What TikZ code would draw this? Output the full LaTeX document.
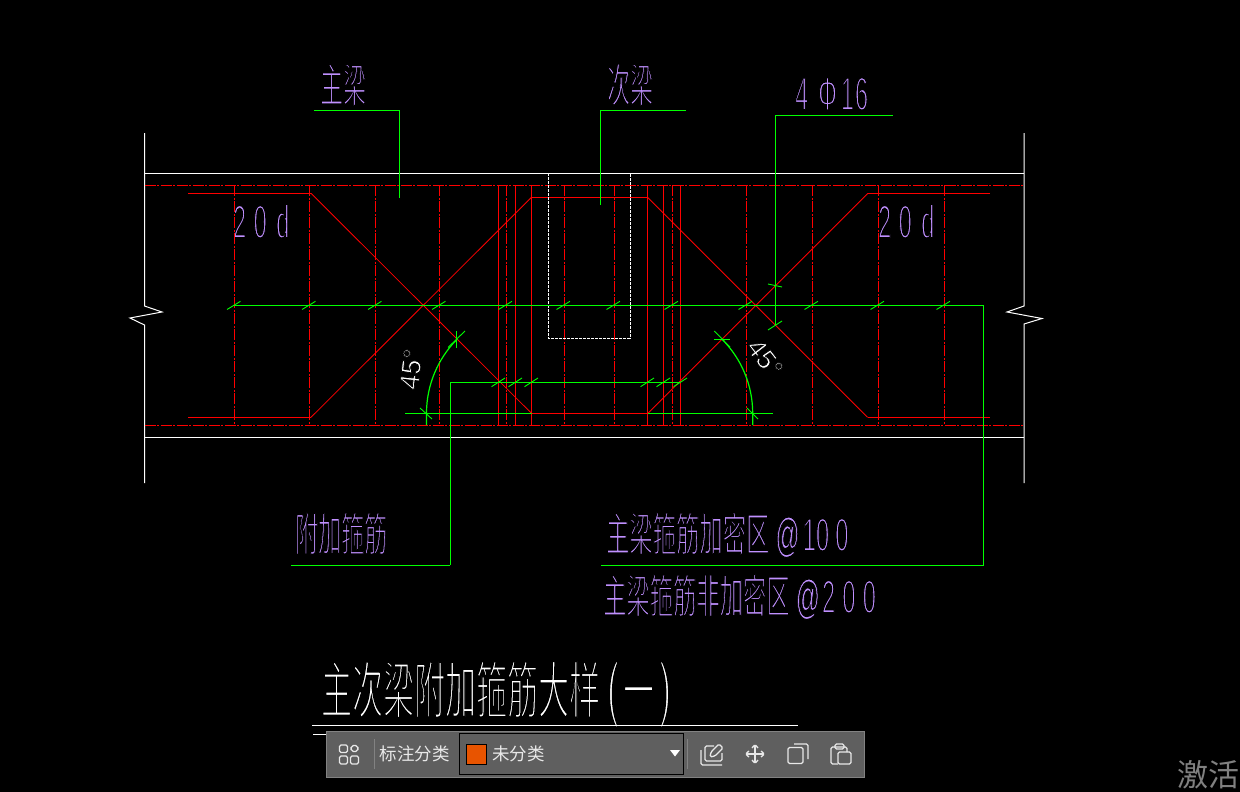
\documentclass[tikz,border=0pt]{standalone}
\usepackage{fontspec}
\setmainfont{Liberation Sans}
\newfontfamily\cjk{Noto Sans CJK SC}
\newcommand\thinned[1]{\special{pdf:code 2 Tr 0 0 0 RG #1 w}}
\newcommand\fs[1]{\fontsize{#1}{#1}\selectfont}
\definecolor{cadpurple}{HTML}{C090FF}
\definecolor{cadred}{HTML}{FF0000}
\definecolor{cadgreen}{HTML}{00FF00}
\definecolor{barfill}{HTML}{5F5F5F}
\definecolor{barline}{HTML}{828282}
\definecolor{baricon}{HTML}{E8E8E8}
\definecolor{catorange}{HTML}{E85400}
\tikzset{
 x=1pt,y=-1pt,
 purpletext/.style={text=cadpurple,inner sep=0pt,anchor=base west,xscale=.5},
 whitetext/.style={text=white,inner sep=0pt,anchor=base west,xscale=.5},
 angletext/.style={text=white,inner sep=0pt,anchor=center,font=\fs{27}},
 bartext/.style={text=baricon,inner sep=0pt,anchor=center,font=\cjk\fs{17.5}},
 wall/.style={white,line width=1pt},
 rebar/.style={cadred,line width=1pt},
 rebardash/.style={cadred,line width=1pt,dash pattern=on 11pt off 1.5pt on 2pt off 1.5pt},
 diagbar/.style={cadred,line width=.8pt},
 greenline/.style={cadgreen,line width=1pt},
 greenthick/.style={cadgreen,line width=1.2pt},
 tick/.style={cadgreen,line width=.9pt},
 icon/.style={baricon,line width=1.3pt,rounded corners=1.5pt},
}
\begin{document}
\begin{tikzpicture}
\useasboundingbox (0,0) rectangle (1240,792);
\fill[black] (0,0) rectangle (1240,792);
% texts below the lines
\node[purpletext] (zl) at (320,102) {\cjk\fs{46}\thinned{1.7}主梁};
\node[purpletext] (cl) at (607,102) {\cjk\fs{46}\thinned{1.7}次梁};
\node[purpletext] (phi) at (795,110) {\fs{47}\thinned{1.8}4\hspace{20pt}Φ\hspace{8pt}1\hspace{2pt}6};
\node[purpletext] (dl) at (233,238) {\fs{47}\thinned{1.8}2\hspace{15pt}0\hspace{19pt}d};
\node[purpletext] (dr) at (878,238) {\fs{47}\thinned{1.8}2\hspace{15pt}0\hspace{19pt}d};
\node[purpletext] (fj) at (295,551) {\cjk\fs{46}\thinned{1.7}附加箍筋};
\node[purpletext,xscale=1.014] (jm) at (606,551) {\cjk\fs{46}\thinned{1.7}主梁箍筋加密区\hspace{12pt}\rmfamily\fs{47}\thinned{1.1}@\hspace{6pt}\thinned{1.8}1\hspace{0pt}0\hspace{12pt}0};
\node[purpletext,xscale=1.014] (fjm) at (603,613) {\cjk\fs{46}\thinned{1.7}主梁箍筋非加密区\hspace{12pt}\rmfamily\fs{47}\thinned{1.1}@\hspace{4pt}\thinned{1.8}2\hspace{14pt}0\hspace{14pt}0};
\node[whitetext] (title) at (321,713) {\cjk\fs{62}\thinned{2.4}主次梁附加箍筋大样\hspace{14pt}\rmfamily\fs{72}\thinned{3}(\hspace{8pt}\cjk\fs{62}\thinned{2.4}一\hspace{10pt}\rmfamily\fs{72}\thinned{3})};
\node[angletext,rotate=84] (al) at (411,369) {\thinned{.7}45°};
\node[angletext,rotate=-52] (ar) at (765,358) {\thinned{.7}45°};
% walls and chord lines
\coordinate (lt) at (144.5,133); \coordinate (lb) at (144.5,483);
\coordinate (rt) at (1024,133); \coordinate (rb) at (1024,483);
\draw[wall] (lt) -- (144.5,306) -- (162,312) -- (130,318) -- (144.5,325) -- (lb);
\draw[wall] (rt) -- (1024,306) -- (1007,312) -- (1042,318.5) -- (1024,324) -- (rb);
\draw[wall] (144.5,173) -- (1024,173);
\draw[wall] (144.5,437) -- (1024,437);
\draw[rebardash] (144.5,185) -- (1024,185);
\draw[rebardash] (144.5,425) -- (1024,425);
% stirrups
\foreach \x in {234.5,309.5,375.5,439.5,506.5,564.5,614.5,672.5,746.5,812.5,878.5,944.5}
  \draw[rebardash] (\x,185) -- (\x,425);
\foreach \x in {498.5,515.5,531.5,647.5,663.5,680.5}
  \draw[rebar] (\x,185) -- (\x,425);
% bent bars
\draw[rebar] (188,193.3) -- (311,193.3);
\draw[diagbar] (311,193.3) -- (531.5,413.3);
\draw[rebar] (531.5,413.3) -- (648,413.3);
\draw[diagbar] (648,413.3) -- (868,193.3);
\draw[rebar] (868,193.3) -- (990,193.3);
\draw[rebar] (188,417.3) -- (311,417.3);
\draw[diagbar] (311,417.3) -- (531.5,197.3);
\draw[rebar] (531.5,197.3) -- (647.5,197.3);
\draw[diagbar] (647.5,197.3) -- (867.5,417.3);
\draw[rebar] (867.5,417.3) -- (990,417.3);
% secondary beam outline
\draw[white,line width=1pt,dash pattern=on 3pt off 1pt] (548.3,173) -- (548.3,338) -- (630.3,338) -- (630.3,173);
% leaders
\draw[greenline] (314,110.3) -- (399.5,110.3) -- (399.5,197.5);
\draw[greenline] (685.7,110.3) -- (600.5,110.3) -- (600.5,205);
\draw[greenline] (892.7,115.3) -- (775.5,115.3) -- (775.5,325);
\draw[greenline] (234,305.3) -- (983.3,305.3) -- (983.3,565.3) -- (601,565.3);
\draw[greenthick] (680.5,382.3) -- (450.3,382.3) -- (450.3,565.3);
\draw[greenline] (450.3,565.3) -- (291,565.3);
% dimensions
\draw[greenline] (405,413.3) -- (531.5,413.3);
\draw[greenline] (648,413.3) -- (772.7,413.3);
\draw[greenthick] (426.5,425) -- (426.5,413.3) arc[start angle=180,end angle=225,radius=105];
\draw[greenthick] (752.7,425) -- (752.7,413.3) arc[start angle=0,end angle=-45,radius=104.7];
\draw[tick] (420,408) -- (432,419);
\draw[tick] (747,408) -- (758,419);
\draw[tick] (456.7,331) -- (456.7,348);
\draw[tick] (448,347.5) -- (465,331);
\draw[tick] (714,339.3) -- (730,339.3);
\draw[tick] (714.3,331) -- (730,347);
% rebar ticks
\foreach \x in {234.5,309.5,375.5,439.5,506,564,614,672,746,812,878,944}
  \draw[tick] (\x-7.5,309.5) -- (\x+6,301.3);
\foreach \x in {498.5,515.5,531.5,647.5,663.5,680.5}
  \draw[tick] (\x-7,386.7) -- (\x+6.5,378);
\draw[tick] (768,284) -- (782,287);
\draw[tick] (768,330) -- (782,321);
% lower title lines
\draw[white,line width=1pt] (312,725.7) -- (798,725.7);
\draw[white,line width=1pt] (313,734) -- (400,734);
% toolbar
\draw[fill=barfill,draw=barline,line width=1pt] (326.5,731.5) rectangle (864.5,777.5);
\draw[barline,line width=1pt] (374.5,739) -- (374.5,769);
\draw[barline,line width=1pt] (687.5,739) -- (687.5,769);
\node[bartext] (lab) at (414.5,754) {标注分类};
\draw[fill=barfill,draw=black,line width=1pt] (459.5,733.5) rectangle (683.5,774.5);
\draw[fill=catorange,draw=black,line width=1pt] (466.5,744.5) rectangle (486.5,764.5);
\node[bartext,anchor=west] (cat) at (492,754) {未分类};
\fill[white] (670,750) -- (680,750) -- (675,756.5) -- cycle;
% icon: grid
\draw[icon] (339.5,745) rectangle (347.5,752.5);
\draw[icon] (339.5,756) rectangle (347.5,764);
\draw[icon] (350.5,756) rectangle (358.5,764);
\draw[icon] (354.5,744.5) -- (359,748.5) -- (354.5,752.5) -- (350,748.5) -- cycle;
% icon: edit
\draw[icon] (701,750) -- (701,765) -- (722,765);
\draw[icon] (714,746) -- (705,746) -- (705,761) -- (722,761) -- (722,753);
\draw[icon] (710,757) -- (711,752) -- (719,744) -- (723,748) -- (715,756) -- cycle;
% icon: move
\draw[icon] (755,745) -- (755,763);
\draw[icon] (746,754) -- (764,754);
\draw[icon] (752,748) -- (755,744.5) -- (758,748);
\draw[icon] (752,760) -- (755,763.5) -- (758,760);
\draw[icon] (749,751) -- (745.5,754) -- (749,757);
\draw[icon] (761,751) -- (764.5,754) -- (761,757);
% icon: copy
\draw[icon] (788,747.5) rectangle (803,763.5);
\draw[icon] (794,744) -- (808,744) -- (808,759);
% icon: paste
\draw[icon] (838,764) -- (831,764) -- (831,747) -- (847,747) -- (847,752);
\draw[icon] (835,744) rectangle (844,749);
\draw[icon] (838,752) rectangle (851,764);
% watermark
\node[text=gray,inner sep=0pt,anchor=center,font=\cjk\fs{31}] (act) at (1208,775) {激活};
\end{tikzpicture}
\end{document}
